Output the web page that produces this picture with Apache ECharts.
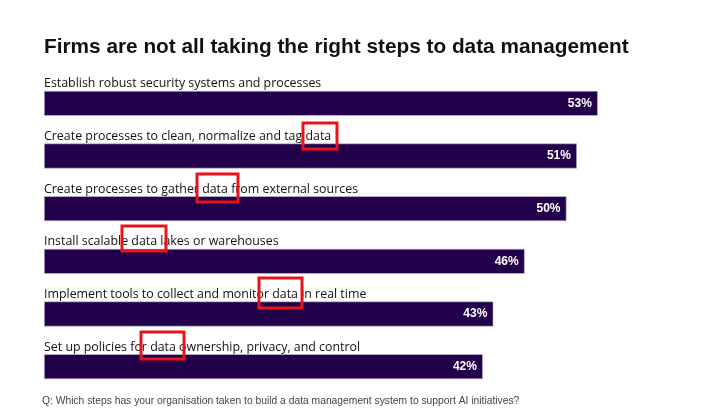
<!DOCTYPE html>
<html>
<head>
<meta charset="utf-8">
<script src="https://cdn.jsdelivr.net/npm/echarts@6/dist/echarts.min.js"></script>
<style>
  html, body { margin: 0; padding: 0; background: #fff; }
  #chart { width: 720px; height: 411px; }
</style>
</head>
<body>
<div id="chart"></div>
<script>
const steps = [
  "Establish robust security systems and processes",
  "Create processes to clean, normalize and tag data",
  "Create processes to gather data from external sources",
  "Install scalable data lakes or warehouses",
  "Implement tools to collect and monitor data in real time",
  "Set up policies for data ownership, privacy, and control"
];
const shares = [53, 51, 50, 46, 43, 42];

// red highlight boxes drawn over the word "data" in the reference
const highlights = [
  [303, 123, 34, 26],
  [197, 174, 41, 28],
  [122, 226, 44, 25],
  [259, 278, 43, 30],
  [141, 332, 43, 27]
];

const chart = echarts.init(document.getElementById("chart"));

const font = "'Liberation Sans', Arial, sans-serif";
const labelFont = "'Open Sans', 'Liberation Sans', sans-serif";

chart.setOption({
  animation: false,
  title: {
    text: "Firms are not all taking the right steps to data management",
    left: 39,
    top: 32,
    textStyle: { fontFamily: font, fontSize: 20.8, fontWeight: "bold", color: "#111" }
  },
  grid: { left: 44, top: 77, width: 627, height: 316 },
  xAxis: {
    type: "value",
    min: 0,
    max: 60,
    show: false
  },
  yAxis: {
    type: "category",
    data: steps,
    inverse: true,
    show: false
  },
  series: [
    {
      type: "bar",
      data: shares,
      barWidth: 25,
      itemStyle: { color: "#23004a", borderColor: "#c9c6d6", borderWidth: 0.6 },
      label: {
        show: true,
        position: "insideRight",
        distance: 6,
        formatter: p => p.value + "%",
        fontFamily: font,
        fontSize: 12,
        fontWeight: "bold",
        color: "#fff"
      }
    },
    {
      // category names sit above each bar
      type: "bar",
      data: shares,
      barWidth: 25,
      barGap: "-100%",
      silent: true,
      itemStyle: { color: "rgba(0,0,0,0)" },
      label: {
        show: true,
        position: [0, -7],
        align: "left",
        verticalAlign: "middle",
        formatter: p => p.name,
        fontFamily: labelFont,
        fontSize: 12.4,
        color: "#111"
      }
    }
  ],
  graphic: [
    {
      type: "text",
      left: 42,
      top: 396,
      style: {
        text: "Q: Which steps has your organisation taken to build a data management system to support AI initiatives?",
        font: "10.3px " + font,
        fill: "#444"
      }
    },
    ...highlights.map(h => ({
      type: "rect",
      shape: { x: h[0], y: h[1], width: h[2], height: h[3] },
      style: { fill: "none", stroke: "#e8141c", lineWidth: 3 },
      z: 10
    }))
  ]
});

window.addEventListener("resize", () => chart.resize());
</script>
</body>
</html>
